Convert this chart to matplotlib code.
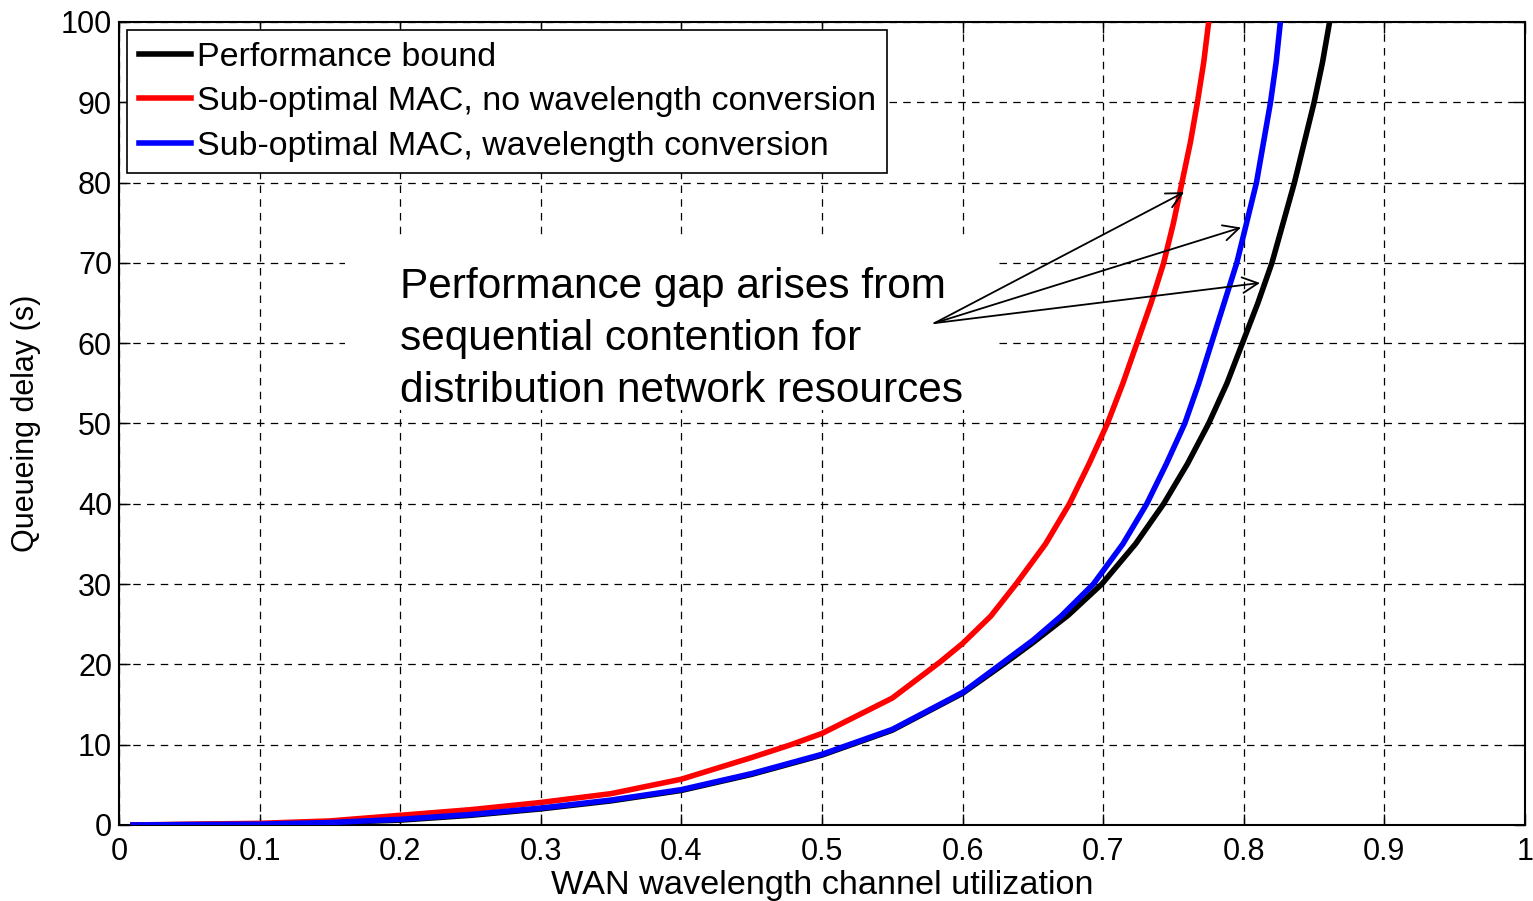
#----------------------------------------------------------------------------------------------------------------------#
# Imports
#----------------------------------------------------------------------------------------------------------------------#
import numpy as np
import matplotlib
matplotlib.use('Agg')
import matplotlib.pyplot as plt
from matplotlib.patches import Rectangle

plt.rcParams['font.family'] = ['Liberation Sans', 'DejaVu Sans']

#----------------------------------------------------------------------------------------------------------------------#
# Data
#----------------------------------------------------------------------------------------------------------------------#
bound_x = [0.01, 0.1, 0.15, 0.2, 0.25, 0.3, 0.35, 0.4, 0.45, 0.5, 0.55, 0.6, 0.629, 0.65, 0.675, 0.699, 0.723,
           0.743, 0.760, 0.775, 0.788, 0.799, 0.810, 0.820, 0.828, 0.836, 0.843, 0.850, 0.856, 0.861]
bound_y = [0.0, 0.1, 0.3, 0.6, 1.2, 2.0, 3.0, 4.3, 6.3, 8.7, 11.8, 16.4, 20.0, 22.7, 26.1, 30.0, 35.0,
           40.0, 45.0, 50.0, 55.0, 60.0, 65.0, 70.0, 75.0, 80.0, 85.0, 90.0, 95.0, 100.0]

noconv_x = [0.01, 0.1, 0.15, 0.2, 0.25, 0.3, 0.35, 0.4, 0.45, 0.478, 0.5, 0.55, 0.584, 0.6, 0.62, 0.638, 0.659,
            0.676, 0.690, 0.703, 0.714, 0.724, 0.734, 0.743, 0.750, 0.756, 0.762, 0.767, 0.7715, 0.775]
noconv_y = [0.0, 0.2, 0.5, 1.2, 1.9, 2.8, 3.9, 5.7, 8.4, 10.0, 11.4, 15.8, 20.3, 22.6, 26.0, 30.0, 35.0,
            40.0, 45.0, 50.0, 55.0, 60.0, 65.0, 70.0, 75.0, 80.0, 85.0, 90.0, 95.0, 100.0]

conv_x = [0.01, 0.1, 0.15, 0.2, 0.25, 0.3, 0.35, 0.4, 0.45, 0.5, 0.55, 0.6, 0.627, 0.65, 0.67, 0.693, 0.714,
          0.731, 0.745, 0.758, 0.768, 0.777, 0.786, 0.795, 0.802, 0.809, 0.814, 0.819, 0.823, 0.826]
conv_y = [0.0, 0.1, 0.3, 0.7, 1.3, 2.1, 3.1, 4.4, 6.4, 8.8, 11.9, 16.5, 20.0, 23.0, 26.0, 30.0, 35.0,
          40.0, 45.0, 50.0, 55.0, 60.0, 65.0, 70.0, 75.0, 80.0, 85.0, 90.0, 95.0, 100.0]

labels = ['Performance bound',
          'Sub-optimal MAC, no wavelength conversion',
          'Sub-optimal MAC, wavelength conversion']

note_text = 'Performance gap arises from\nsequential contention for\ndistribution network resources'
arrow_tail = (0.580, 62.5)
arrow_heads = [(0.7575, 78.8), (0.798, 74.4), (0.8115, 67.5)]

#----------------------------------------------------------------------------------------------------------------------#
# Figure
#----------------------------------------------------------------------------------------------------------------------#
fig = plt.figure(figsize=(15.33, 9.01), dpi=100)
ax = fig.add_axes([0.0776, 0.0844, 0.9172, 0.8912])

ax.plot(bound_x, bound_y, color='k', linewidth=4, label=labels[0], zorder=3)
ax.plot(noconv_x, noconv_y, color='#ff0000', linewidth=4, label=labels[1], zorder=3)
ax.plot(conv_x, conv_y, color='#0000ff', linewidth=4, label=labels[2], zorder=3)

ax.set_xlim(0, 1)
ax.set_ylim(0, 100)
ax.set_xticks(np.arange(0, 1.01, 0.1))
ax.set_xticklabels(['0', '0.1', '0.2', '0.3', '0.4', '0.5', '0.6', '0.7', '0.8', '0.9', '1'])
ax.set_yticks(np.arange(0, 101, 10))

ax.grid(True, color='k', linestyle=(0, (6, 5)), linewidth=0.9)
ax.tick_params(direction='in', top=True, right=True, length=8, width=1, labelsize=22)
ax.tick_params(axis='x', pad=9)
ax.tick_params(axis='y', pad=5)
for s in ax.spines.values():
    s.set_linewidth(1.5)

ax.set_xlabel('WAN wavelength channel utilization', fontsize=24.7, labelpad=2)
ax.set_ylabel('Queueing delay (s)', fontsize=22, labelpad=14)

leg = ax.legend(loc='upper left', fontsize=24.5, handlelength=1.55, handletextpad=0.15, borderpad=0.33,
                labelspacing=0.4, borderaxespad=0.25, fancybox=False, framealpha=1)
leg.get_frame().set_edgecolor('k')
leg.get_frame().set_linewidth(1.2)

#----------------------------------------------------------------------------------------------------------------------#
# Annotation
#----------------------------------------------------------------------------------------------------------------------#
# white box behind the note hides the grid there
ax.add_patch(Rectangle((0.161, 51.7), 0.462, 21.2, facecolor='white', edgecolor='none', zorder=2))
ax.text(0.2, 60.5, note_text, fontsize=30.5, ha='left', va='center', linespacing=1.38, zorder=4)
for head in arrow_heads:
    ax.annotate('', xy=head, xytext=arrow_tail, zorder=4,
                arrowprops=dict(arrowstyle='->', color='k', lw=1.3, mutation_scale=28, shrinkA=0, shrinkB=0))

fig.savefig('out.png', dpi=100)
